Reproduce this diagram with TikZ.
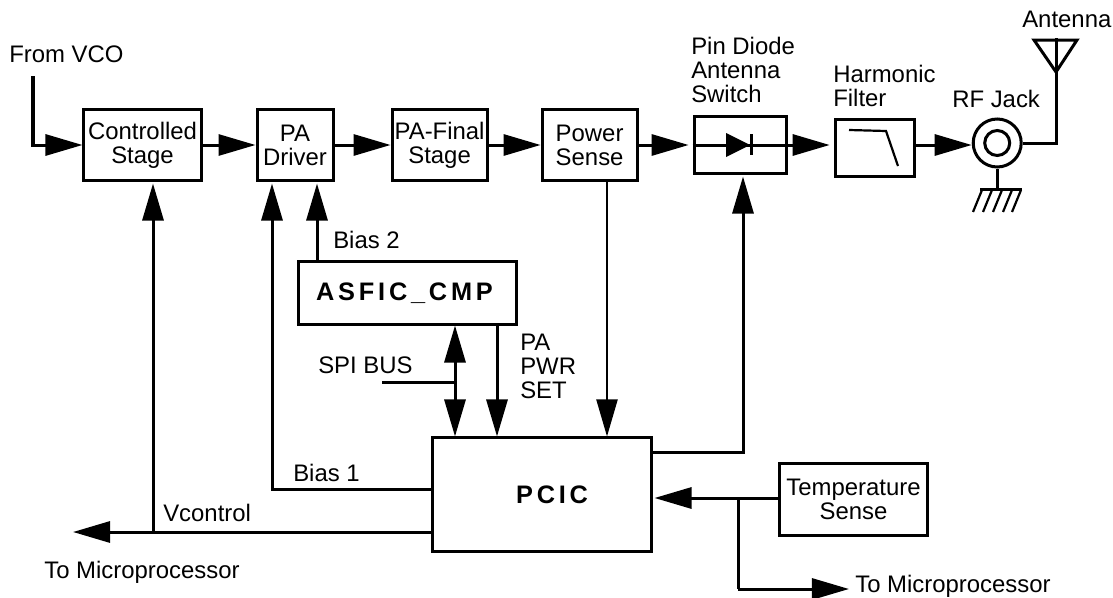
\documentclass[tikz,border=0pt]{standalone}
\usepackage{fontspec}
\setmainfont{Liberation Sans}
\usepackage{xcolor}
\usepackage{tikz}
\usetikzlibrary{arrows.meta, positioning}

\begin{document}
\begin{tikzpicture}[
    x=0.025cm,
    y=-0.025cm,
    font=\fontsize{17}{17.07}\selectfont,
    stagebox/.style={
        draw,
        line width=0.075cm,
        inner sep=0pt,
        minimum width=2.4cm,
        minimum height=1.75cm,
        align=center
    },
    chipfont/.style={
        font=\fontsize{18}{18}\selectfont\bfseries\addfontfeature{LetterSpace=15}
    },
    lab/.style={
        inner sep=0pt,
        align=left,
        anchor=west
    },
    ring/.style={
        draw,
        circle,
        line width=0.075cm,
        inner sep=0pt
    },
    wire/.style={line width=0.075cm},
    thinwire/.style={line width=0.055cm},
    arrow/.style={-{Triangle[length=0.925cm,width=0.525cm]}, line width=0.075cm},
    biarrow/.style={{Triangle[length=0.925cm,width=0.525cm]}-{Triangle[length=0.925cm,width=0.525cm]}, line width=0.075cm}
]
\useasboundingbox (0,0) rectangle (1113,598);

% Transmit chain
\node[stagebox, minimum width=2.925cm] (ctrl) at (142.5,145) {Controlled\\Stage};
\node[stagebox, minimum width=1.9cm, right=1.325cm of ctrl] (driver) {PA\\Driver};
\node[stagebox, minimum width=2.375cm, right=1.4cm of driver] (final) {PA-Final\\Stage};
\node[stagebox, minimum width=2.375cm, right=1.3cm of final] (sense) {Power\\Sense};
\node[stagebox, minimum width=2.3cm, minimum height=1.4cm, right=1.35cm of sense] (pin) {};
\node[stagebox, minimum width=1.975cm, minimum height=1.4cm, right=1.15cm of pin, yshift=-0.075cm] (filter) {};
\node[ring, minimum size=1.2cm, right=1.4cm of filter, yshift=0.125cm] (jack) {};
\node[ring, minimum size=0.625cm] (jackin) at (jack) {};

% Chips and temperature
\node[stagebox, chipfont, minimum width=5.425cm, minimum height=1.55cm] (asfic) at (407.5,293) {ASFIC\_CMP\hspace{0.15cm}};
\node[stagebox, chipfont, minimum width=5.45cm, minimum height=2.825cm] (pcic) at (542,494.5) {\hspace*{0.5cm}PCIC};
\node[stagebox, minimum width=3.675cm, minimum height=1.775cm] (temp) at (853.5,499.5) {Temperature\\Sense};

% Labels
\node[lab] (vco) at (9,54) {From VCO};
\node[lab] (pinlab) at (691,70) {Pin Diode\\Antenna\\Switch};
\node[lab] (filterlab) at (833,86) {Harmonic\\Filter};
\node[lab] (jacklab) at (952,99) {RF Jack};
\node[lab] (antlab) at (1022,19) {Antenna};
\node[lab] (bias2) at (333,240) {Bias 2};
\node[lab] (spi) at (318,365) {SPI BUS};
\node[lab] (pwrset) at (520,366) {PA\\PWR\\SET};
\node[lab] (bias1) at (293,473) {Bias 1};
\node[lab] (vctl) at (163,513) {Vcontrol};
\node[lab] (micl) at (44,572) {To Microprocessor};
\node[lab] (micr) at (855,586) {To Microprocessor};

% Junctions and free ends
\coordinate (vcoend) at (33,76);
\coordinate (vcjoin) at (153,532);
\coordinate (vcout) at (73,532);
\coordinate (bias1turn) at (272,489);
\coordinate (bias2top) at (317,261);
\coordinate (spistart) at (382,382);
\coordinate (spibus) at (455,382);
\coordinate (setx) at (497,325);
\coordinate (sensex) at (607,181);
\coordinate (pinturn) at (743,452);
\coordinate (tempjoin) at (738,498);
\coordinate (micturn) at (738,589);
\coordinate (micend) at (849,589);
\coordinate (antfoot) at (1056,143);
\coordinate (anttop) at (1056,38);
\coordinate (gndbar) at (997,189);

% Connections
\draw[arrow] (vcoend) |- (ctrl.west);
\draw[arrow] (ctrl.east) -- (driver.west);
\draw[arrow] (driver.east) -- (final.west);
\draw[arrow] (final.east) -- (sense.west);
\draw[arrow, shorten >=0.1cm] (sense.east) -- (pin.west);
\draw[arrow, shorten >=0.1cm] (pin.west) -- (pin.east) -- (pin.east -| filter.west);
\draw[arrow] (pin.east -| filter.east) -- (pin.east -| jack.west);
\draw[wire] (jack.east) -- (jack.east -| antfoot) -- (anttop);

\draw[arrow, shorten >=0.05cm] (vcjoin) -- (vcjoin |- ctrl.south);
\draw[arrow, shorten >=0.05cm] (pcic.west |- bias1turn) -- (bias1turn) -- (bias1turn |- driver.south);
\draw[arrow, shorten >=0.05cm] (bias2top) -- (bias2top |- driver.south);
\draw[arrow, shorten >=0.05cm] (pcic.east |- pinturn) -- (pinturn) -- (pinturn |- pin.south);
\draw[arrow] (pcic.west |- vcjoin) -- (vcout);

\draw[biarrow] (spibus |- asfic.south) -- (spibus |- pcic.north);
\draw[wire] (spistart) -- (spibus);
\draw[arrow] (setx) -- (setx |- pcic.north);
\draw[arrow, thinwire] (sensex) -- (sensex |- pcic.north);

\draw[arrow, shorten >=0.05cm] (temp.west |- tempjoin) -- (pcic.east |- tempjoin);
\draw[wire] (tempjoin) -- (micturn);
\draw[arrow] (micturn) -- (micend);

% Diode
\fill (726,133) -- (750,145) -- (726,157) -- cycle;
\draw[wire] (751,134) -- (751,155);

% Filter curve
\draw[thinwire] (849,130) -- (886,131) -- (898,166);

% Antenna
\draw[wire] (1034,40) -- (1077,40) -- (1056,72) -- cycle;

% Ground
\draw[wire] (jack.south) -- (jack.south |- gndbar);
\draw[wire] (980,189) -- (1022,189);
\foreach \hx in {982,992,1002,1012,1021} {
    \draw[thinwire] (\hx,190) -- (\hx-9,212);
}

\end{tikzpicture}
\end{document}
